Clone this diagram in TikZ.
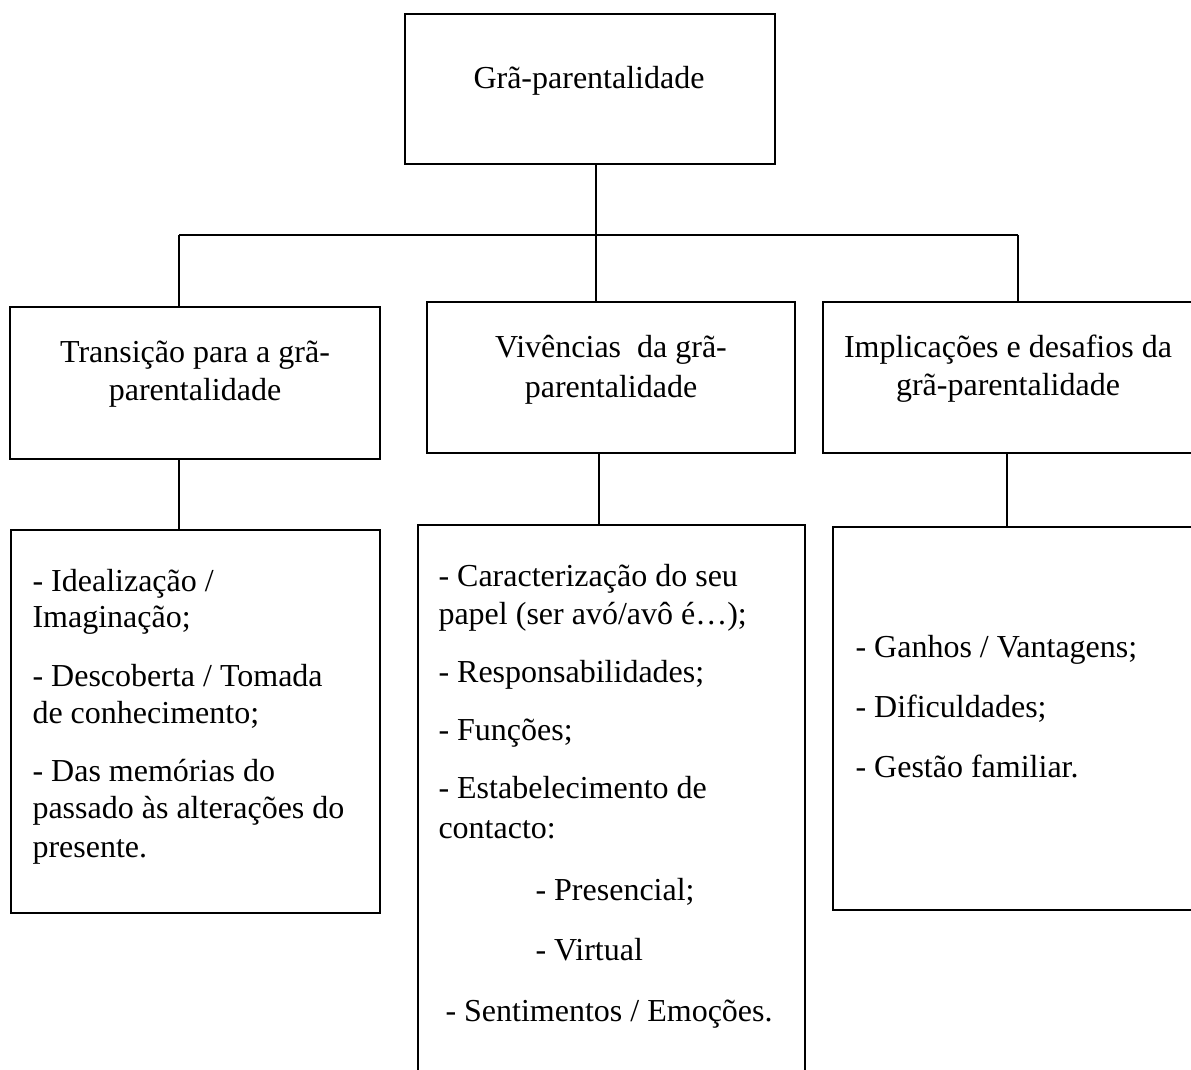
\documentclass[tikz,border=0pt]{standalone}
\usepackage{fontspec}
\setmainfont{Liberation Serif}
\begin{document}
\begin{tikzpicture}[x=0.375pt,y=-0.375pt,
  box/.style 2 args={draw, line width=0.9pt, inner sep=0pt,
     minimum width=#1*0.375pt, minimum height=#2*0.375pt},
  conn/.style={line width=0.4pt},
  txt/.style={inner sep=0pt, font=\fontsize{12}{14}\selectfont, anchor=base},
  ltxt/.style={txt, anchor=base west}]
\useasboundingbox (0,0) rectangle (1191,1070);
\clip (0,0) rectangle (1191,1070);

% boxes
\node[box={370}{150}] (top) at (590,89) {};
\node[box={370}{152}] (lbox) at (195,383) {};
\node[box={368}{151}] (mbox) at (611,377.5) {};
\node[box={370}{151}] (rbox) at (1008,377.5) {};
\node[box={369}{383}] (lbot) at (195.5,721.5) {};
\node[box={387}{575}] (mbot) at (611.5,812.5) {};
\node[box={377}{383}] (rbot) at (1021.5,718.5) {};

% connectors
\coordinate (j) at (596,235);
\coordinate (jl) at (179,235);
\coordinate (jr) at (1018,235);
\draw[conn] (top.south -| j) -- (j);
\draw[conn] (jl) -- (jr);
\draw[conn] (jl) -- (jl |- lbox.north);
\draw[conn] (j) -- (j |- mbox.north);
\draw[conn] (jr) -- (jr |- rbox.north);
\coordinate (cl) at (179,0);
\coordinate (cm) at (599,0);
\coordinate (cr) at (1007,0);
\draw[conn] (cl |- lbox.south) -- (cl |- lbot.north);
\draw[conn] (cm |- mbox.south) -- (cm |- mbot.north);
\draw[conn] (cr |- rbox.south) -- (cr |- rbot.north);

% texts
\node[txt] (t0) at (589,89) {Grã-parentalidade};

\node[txt] (t1a) at (195,363) {Transição para a grã-};
\node[txt] (t1b) at (195,400) {parentalidade};
\node[txt] (t2a) at (611,358) {Vivências~ da grã-};
\node[txt] (t2b) at (611,397) {parentalidade};
\node[txt] (t3a) at (1008,357) {Implicações e desafios da};
\node[txt] (t3b) at (1008,396) {grã-parentalidade};

\node[ltxt] (l1) at (32,591) {- Idealização /};
\node[ltxt] (l2) at (32,628) {Imaginação;};
\node[ltxt] (l3) at (32,686) {- Descoberta / Tomada};
\node[ltxt] (l4) at (32,723) {de conhecimento;};
\node[ltxt] (l5) at (32,781) {- Das memórias do};
\node[ltxt] (l6) at (32,818) {passado às alterações do};
\node[ltxt] (l7) at (32,857) {presente.};

\node[ltxt] (m1) at (438,587) {- Caracterização do seu};
\node[ltxt] (m2) at (438,625) {papel (ser avó/avô é…);};
\node[ltxt] (m3) at (438,683) {- Responsabilidades;};
\node[ltxt] (m4) at (438,740) {- Funções;};
\node[ltxt] (m5) at (438,798) {- Estabelecimento de};
\node[ltxt] (m6) at (438,838) {contacto:};
\node[ltxt] (m7) at (535,900) {- Presencial;};
\node[ltxt] (m8) at (535,960) {- Virtual};
\node[ltxt] (m9) at (445,1021) {- Sentimentos / Emoções.};

\node[ltxt] (r1) at (855,657) {- Ganhos / Vantagens;};
\node[ltxt] (r2) at (855,717) {- Dificuldades;};
\node[ltxt] (r3) at (855,777) {- Gestão familiar.};
\end{tikzpicture}
\end{document}
